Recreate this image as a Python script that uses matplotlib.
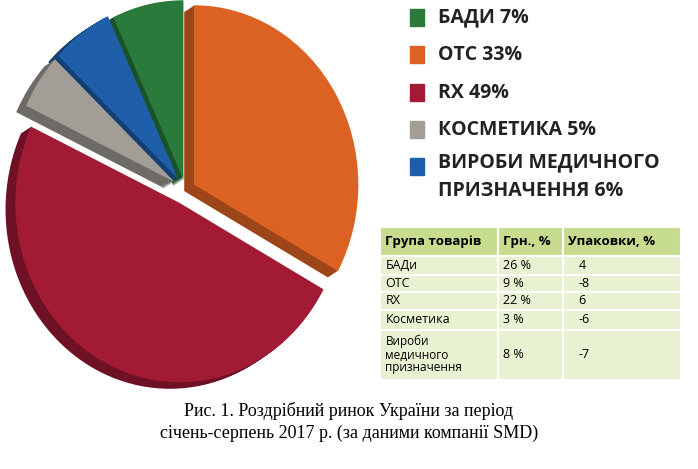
import matplotlib
matplotlib.use("Agg")
import matplotlib.pyplot as plt
import numpy as np

labels = ["OTC", "RX", "КОСМЕТИКА", "ВИРОБИ", "БАДИ"]
shares = [33, 49, 5, 6, 7]
colors = ["#dc6223", "#a31a35", "#a39d97", "#1f5faa", "#2a7a3c"]
dark = ["#9c4518", "#6e1124", "#6e6a66", "#143f72", "#1b5128"]
explode = [0.06, 0.08, 0.08, 0.08, 0.06]

legend_labels = ["БАДИ 7%", "ОТС 33%", "RX 49%", "КОСМЕТИКА 5%", "ВИРОБИ МЕДИЧНОГО\nПРИЗНАЧЕННЯ 6%"]
legend_colors = ["#2a7a3c", "#dc6223", "#a31a35", "#a39d97", "#1f5faa"]

tbl_header = ["Група товарів", "Грн., %", "Упаковки, %"]
tbl_groups = ["БАДи", "ОТС", "RX", "Косметика", "Вироби\nмедичного\nпризначення"]
tbl_uah = ["26 %", "9 %", "22 %", "3 %", "8 %"]
tbl_pack = ["4", "-8", "6", "-6", "-7"]

fig = plt.figure(figsize=(6.98, 4.69), dpi=100)
ax = fig.add_axes([0.0, 0.17, 0.52, 0.83])
ax.axis("off")
n = 10
for i in range(n, 0, -1):
    off = i * 0.006
    ax.pie(shares, colors=dark, explode=explode, startangle=90,
           counterclock=False, center=(-off, -off * 0.6), radius=1.0)
ax.pie(shares, colors=colors, explode=explode, startangle=90,
       counterclock=False, radius=1.0)
ax.set_aspect("auto")
ax.set_xlim(-1.13, 1.08)
ax.set_ylim(-1.11, 1.06)

# legend
ys = [0.962, 0.883, 0.802, 0.723, 0.645]
for y, lab, c in zip(ys, legend_labels, legend_colors):
    fig.patches.append(plt.Rectangle((0.587, y - 0.018), 0.02, 0.036, color=c,
                                     transform=fig.transFigure, figure=fig))
    if "\n" in lab:
        fig.text(0.627, y + 0.03, lab, fontsize=14, fontweight="bold", va="top",
                 color="#222222", family="Open Sans", linespacing=1.55)
    else:
        fig.text(0.627, y, lab, fontsize=14, fontweight="bold", va="center",
                 color="#222222", family="Open Sans")

# table
tax = fig.add_axes([0.545, 0.19, 0.43, 0.325])
tax.axis("off")
tax.set_xlim(0, 300)
tax.set_ylim(152, 0)
cols = [0, 118, 183, 300]
rows = [0, 28, 47, 64, 82, 102, 152]
for r in range(6):
    for c in range(3):
        fc = "#c8dc8f" if r == 0 else "#e9f1d3"
        tax.add_patch(plt.Rectangle((cols[c], rows[r]), cols[c+1]-cols[c], rows[r+1]-rows[r],
                                    facecolor=fc, edgecolor="white", lw=1.5))
for c, h in enumerate(tbl_header):
    tax.text(cols[c] + 5, 14, h, fontsize=9.5, fontweight="bold", va="center", family="Open Sans")
for r in range(5):
    ymid = (rows[r+1] + rows[r+2]) / 2
    tax.text(5, ymid, tbl_groups[r], fontsize=9 if r < 4 else 8.5, va="center",
             family="Open Sans", linespacing=1.0)
    tax.text(cols[1] + 5, ymid, tbl_uah[r], fontsize=9, va="center", family="Open Sans")
    tax.text(cols[2] + 15, ymid, tbl_pack[r], fontsize=9, va="center", family="Open Sans")

fig.text(0.5, 0.1, "Рис. 1. Роздрібний ринок України за період\nсічень-серпень 2017 р. (за даними компанії SMD)",
         ha="center", va="center", fontsize=13, family="Liberation Serif", linespacing=1.3)
fig.savefig("out.png", dpi=100)
